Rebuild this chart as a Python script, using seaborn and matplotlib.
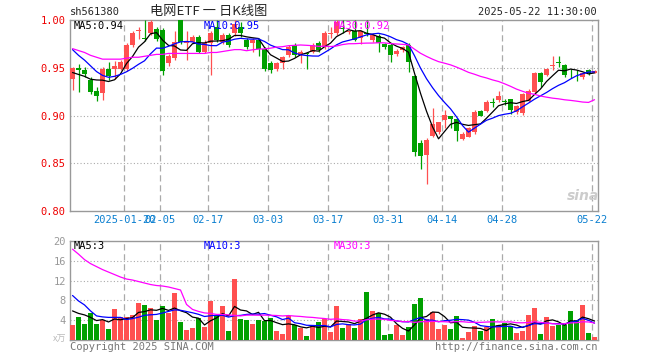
import numpy as np
import pandas as pd
import seaborn as sns
import matplotlib.pyplot as plt

# daily candles, 2025-01-07 .. 2025-05-22 (88 trading days)
open_ = [0.938, 0.950, 0.948, 0.937, 0.926, 0.924, 0.949, 0.949, 0.949, 0.949,
         0.974, 0.989, 0.981, 0.986, 0.991, 0.990, 0.955, 0.960, 1.000, 0.976,
         0.977, 0.982, 0.967, 0.976, 0.993, 0.977, 0.984, 0.986, 0.993, 0.979,
         0.976, 0.979, 0.970, 0.955, 0.949, 0.955, 0.963, 0.974, 0.963, 0.965,
         0.967, 0.976, 0.972, 0.985, 0.986, 0.992, 0.987, 0.988, 0.981, 0.986,
         0.979, 0.983, 0.975, 0.974, 0.964, 0.969, 0.974, 0.941, 0.871, 0.859,
         0.879, 0.883, 0.895, 0.899, 0.896, 0.875, 0.878, 0.883, 0.905, 0.905,
         0.914, 0.916, 0.915, 0.917, 0.904, 0.903, 0.915, 0.925, 0.945, 0.942,
         0.952, 0.956, 0.953, 0.945, 0.945, 0.940, 0.948, 0.945]
high = [0.951, 0.954, 0.951, 0.940, 0.930, 0.951, 0.956, 0.957, 0.958, 0.976,
        0.988, 0.993, 1.000, 1.000, 0.993, 0.992, 0.964, 0.988, 1.000, 0.988,
        0.984, 0.984, 0.979, 0.988, 1.000, 0.986, 0.986, 1.000, 0.998, 0.981,
        0.981, 0.981, 0.972, 0.957, 0.956, 0.962, 0.974, 0.976, 0.969, 0.967,
        0.976, 0.978, 0.988, 0.993, 1.000, 1.000, 0.989, 1.000, 0.990, 1.000,
        0.986, 0.985, 0.976, 0.976, 0.970, 0.973, 0.976, 0.942, 0.874, 0.876,
        0.908, 0.893, 0.906, 0.899, 0.897, 0.883, 0.888, 0.906, 0.906, 0.916,
        0.918, 0.926, 0.917, 0.917, 0.911, 0.924, 0.928, 0.946, 0.946, 0.950,
        0.962, 0.962, 0.954, 0.949, 0.948, 0.945, 0.949, 0.948]
low = [0.927, 0.925, 0.940, 0.922, 0.915, 0.916, 0.937, 0.938, 0.948, 0.947,
       0.972, 0.980, 0.978, 0.984, 0.978, 0.942, 0.952, 0.958, 0.975, 0.958,
       0.976, 0.965, 0.965, 0.942, 0.977, 0.975, 0.972, 0.983, 0.982, 0.970,
       0.967, 0.962, 0.947, 0.944, 0.947, 0.949, 0.961, 0.961, 0.955, 0.949,
       0.965, 0.967, 0.970, 0.981, 0.984, 0.986, 0.985, 0.978, 0.975, 0.983,
       0.977, 0.967, 0.970, 0.956, 0.962, 0.967, 0.946, 0.858, 0.844, 0.828,
       0.878, 0.881, 0.887, 0.887, 0.873, 0.874, 0.877, 0.881, 0.899, 0.904,
       0.909, 0.914, 0.911, 0.902, 0.902, 0.901, 0.914, 0.924, 0.930, 0.941,
       0.948, 0.951, 0.940, 0.939, 0.936, 0.938, 0.942, 0.944]
close = [0.950, 0.948, 0.943, 0.925, 0.920, 0.949, 0.941, 0.952, 0.956, 0.974,
         0.986, 0.990, 0.980, 0.998, 0.980, 0.947, 0.962, 0.977, 0.977, 0.978,
         0.982, 0.967, 0.976, 0.986, 0.979, 0.984, 0.974, 0.996, 0.986, 0.972,
         0.979, 0.970, 0.949, 0.948, 0.955, 0.961, 0.972, 0.963, 0.967, 0.964,
         0.974, 0.969, 0.986, 0.986, 0.998, 0.991, 0.988, 0.979, 0.988, 0.985,
         0.984, 0.976, 0.972, 0.963, 0.968, 0.972, 0.956, 0.862, 0.858, 0.874,
         0.891, 0.893, 0.900, 0.896, 0.884, 0.881, 0.887, 0.904, 0.900, 0.914,
         0.913, 0.920, 0.914, 0.906, 0.910, 0.923, 0.926, 0.945, 0.935, 0.949,
         0.953, 0.955, 0.942, 0.944, 0.944, 0.944, 0.944, 0.947]
# volume, 万手
volume = [3.1, 4.7, 3.3, 5.4, 3.3, 4.1, 2.3, 6.3, 4.6, 4.6,
          5.0, 7.5, 7.1, 6.4, 4.1, 6.9, 5.5, 9.5, 3.7, 2.1,
          2.5, 4.4, 2.7, 7.9, 5.0, 6.9, 1.9, 12.3, 4.3, 4.1,
          3.3, 4.1, 3.9, 4.5, 1.9, 1.3, 4.9, 3.0, 2.4, 0.9,
          2.9, 3.7, 4.2, 1.7, 6.8, 2.5, 3.2, 2.5, 4.3, 9.6,
          5.8, 5.4, 1.1, 1.3, 3.1, 1.1, 2.7, 7.3, 8.5, 4.3,
          5.6, 2.3, 3.1, 2.3, 4.9, 0.5, 1.7, 2.9, 1.9, 2.7,
          4.3, 3.1, 3.5, 2.9, 1.5, 1.9, 5.1, 6.5, 1.3, 4.7,
          2.9, 3.1, 3.1, 5.9, 4.1, 7.1, 1.5, 0.7]

ma5_head = [0.945, 0.943, 0.941, 0.938]
ma10_head = [0.969, 0.963, 0.958, 0.952, 0.946, 0.942, 0.940, 0.941, 0.943]
ma30_head = [0.970, 0.968, 0.966, 0.963, 0.961, 0.959, 0.959, 0.959, 0.959, 0.960,
             0.961, 0.961, 0.962, 0.963, 0.964, 0.964, 0.965, 0.965, 0.965, 0.965,
             0.965, 0.965, 0.965, 0.966, 0.966, 0.967, 0.968, 0.969, 0.969]
vma5_head = [5.9, 5.4, 5.1, 4.6]
vma10_head = [9.0, 7.9, 7.1, 5.9, 4.9, 4.7, 4.6, 4.6, 4.6]
vma30_head = [18.3, 17.3, 16.2, 15.4, 14.8, 14.2, 13.7, 13.2, 12.7, 12.3,
              12.1, 11.8, 11.5, 11.2, 11.0, 10.9, 10.7, 10.4, 10.1, 7.2,
              6.2, 5.8, 5.5, 5.4, 5.2, 5.2, 5.1, 5.0, 4.9]

date_pos = [9, 15, 23, 33, 43, 53, 62, 72, 87]
date_lbl = ['2025-01-20', '02-05', '02-17', '03-03', '03-17', '03-31', '04-14', '04-28', '05-22']
price_ticks = [0.80, 0.85, 0.90, 0.95, 1.00]
vol_ticks = [4, 8, 12, 16, 20]

RED = '#ff5050'
GREEN = '#00a000'
GRID = '#aaaaaa'
BORDER = '#999999'

sns.set_style('white')
plt.rcParams['font.family'] = ['DejaVu Sans Mono', 'Noto Sans CJK SC']

df = pd.DataFrame({'o': open_, 'h': high, 'l': low, 'c': close, 'v': volume})
df['x'] = np.arange(len(df))
df['up'] = df['c'] >= df['o']


def with_head(s, n, head):
    m = s.rolling(n).mean()
    m.iloc[:len(head)] = head
    return m


df['ma5'] = with_head(df['c'], 5, ma5_head)
df['ma10'] = with_head(df['c'], 10, ma10_head)
df['ma30'] = with_head(df['c'], 30, ma30_head)
df['vma5'] = with_head(df['v'], 5, vma5_head)
df['vma10'] = with_head(df['v'], 10, vma10_head)
df['vma30'] = with_head(df['v'], 30, vma30_head)

fig = plt.figure(figsize=(6.6, 3.6), dpi=100)
ax = fig.add_axes([70 / 660, 1 - 211 / 360, 528 / 660, 191 / 360])
ax2 = fig.add_axes([70 / 660, 1 - 340.3 / 360, 528 / 660, 99.6 / 360])

xlim = (-0.42, 87.58)

# price panel
colors = np.where(df['up'], RED, GREEN)
ax.vlines(df['x'], df['l'], df['h'], colors=colors, linewidth=0.9, zorder=3)
body = (df['c'] - df['o']).abs().clip(lower=0.0008)
ax.bar(df['x'], body, bottom=df[['o', 'c']].min(axis=1), width=0.8,
       color=colors, linewidth=0, zorder=4)
sns.lineplot(data=df, x='x', y='ma5', color='black', linewidth=0.9, ax=ax, zorder=5)
sns.lineplot(data=df, x='x', y='ma10', color='#0000ff', linewidth=0.9, ax=ax, zorder=5)
sns.lineplot(data=df, x='x', y='ma30', color='#ff00ff', linewidth=0.9, ax=ax, zorder=5)
ax.set_ylim(0.80, 1.00)
ax.set_xlim(*xlim)
ax.set_yticks(price_ticks)
ax.set_yticklabels(['%.2f' % t for t in price_ticks], color='#ee0000', fontsize=7.5)
for t in price_ticks[1:-1]:
    ax.axhline(t, color=GRID, linestyle=(0, (1, 2)), linewidth=0.8, zorder=1)
ax.set_xticks([p - 0.4 for p in date_pos])
ax.set_xticklabels(date_lbl, color='#0a7fd0', fontsize=7.5)
ax.tick_params(length=0, pad=3)

# volume panel
sns.barplot(data=df, x='x', y='v', hue='up', palette={True: RED, False: GREEN},
            native_scale=True, width=0.8, dodge=False, saturation=1,
            legend=False, linewidth=0, ax=ax2, zorder=3)
sns.lineplot(data=df, x='x', y='vma5', color='black', linewidth=0.9, ax=ax2, zorder=5)
sns.lineplot(data=df, x='x', y='vma10', color='#0000ff', linewidth=0.9, ax=ax2, zorder=5)
sns.lineplot(data=df, x='x', y='vma30', color='#ff00ff', linewidth=0.9, ax=ax2, zorder=5)
ax2.set_ylim(0, 20)
ax2.set_xlim(*xlim)
ax2.set_yticks(vol_ticks)
ax2.set_yticklabels([str(t) for t in vol_ticks], color='#999999', fontsize=7.5)
for t in vol_ticks[:-1]:
    ax2.axhline(t, color=GRID, linestyle=(0, (1, 2)), linewidth=0.8, zorder=1)
ax2.set_xticks([])
ax2.tick_params(length=0, pad=3)

for a in (ax, ax2):
    a.set_xlabel('')
    a.set_ylabel('')
    for p in date_pos:
        a.axvline(p - 0.4, color=GRID, linestyle=(0, (5, 3)), linewidth=0.9, zorder=1)
    for s in a.spines.values():
        s.set_color(BORDER)
        s.set_linewidth(1.0)

# labels
fig.text(70 / 660, 1 - 12 / 360, 'sh561380', fontsize=7.5, va='center', ha='left')
fig.text(209 / 660, 1 - 12 / 360, '电网ETF 一 日K线图', fontsize=9.5, va='center', ha='center',
         family=['Noto Sans CJK SC', 'DejaVu Sans'])
fig.text(597 / 660, 1 - 12 / 360, '2025-05-22 11:30:00', fontsize=7.5, va='center', ha='right')
fig.text(74 / 660, 1 - 26 / 360, 'MA5:0.94', fontsize=7.5, va='center', color='black')
fig.text(204 / 660, 1 - 26 / 360, 'MA10:0.95', fontsize=7.5, va='center', color='#0000ff')
fig.text(334 / 660, 1 - 26 / 360, 'MA30:0.92', fontsize=7.5, va='center', color='#ff00ff')
fig.text(74 / 660, 1 - 246 / 360, 'MA5:3', fontsize=7.5, va='center', color='black')
fig.text(204 / 660, 1 - 246 / 360, 'MA10:3', fontsize=7.5, va='center', color='#0000ff')
fig.text(334 / 660, 1 - 246 / 360, 'MA30:3', fontsize=7.5, va='center', color='#ff00ff')
fig.text(66 / 660, 1 - 339 / 360, 'x万', fontsize=6.5, va='center', ha='right', color='#bbbbbb',
         family=['Noto Sans CJK SC', 'DejaVu Sans'])
fig.text(70 / 660, 1 - 347 / 360, 'Copyright 2025 SINA.COM', fontsize=7.5, va='center', color='#777777')
fig.text(597 / 660, 1 - 347 / 360, 'http://finance.sina.com.cn', fontsize=7.5, va='center',
         ha='right', color='#777777')
fig.text(583 / 660, 1 - 196 / 360, 'sina', fontsize=10, va='center', ha='center', color='#cccccc',
         style='italic', weight='bold', family='DejaVu Sans')

fig.savefig('out.png', dpi=100)
